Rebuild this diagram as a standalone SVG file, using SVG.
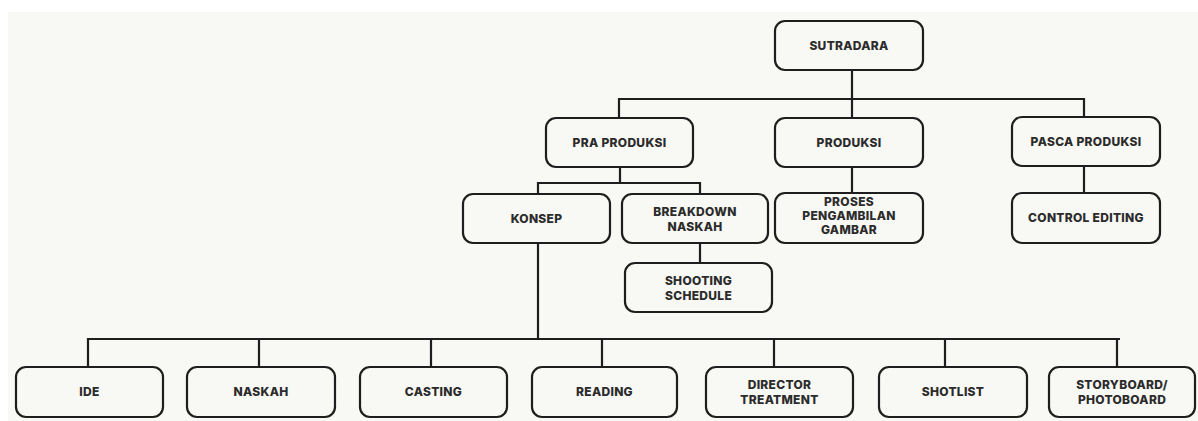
<svg xmlns="http://www.w3.org/2000/svg" width="1198" height="421" viewBox="0 0 1198 421">
<style>
.box{fill:#f8f8f4;stroke:#1e1e1e;stroke-width:2.2}
.lbl{font-family:Inter,"Liberation Sans",sans-serif;font-weight:800;font-size:12px;fill:#2b2b2b;text-anchor:middle;letter-spacing:0.3px}
.conn{stroke:#1e1e1e;stroke-width:2.2;fill:none}
</style>
<rect x="0" y="0" width="1198" height="421" fill="#ffffff"/>
<rect x="8" y="12" width="1190" height="409" fill="#f8f8f4"/>
<g id="connectors" class="conn">
<path d="M852 70V118"/>
<path d="M619 118V99H1084V117"/>
<path d="M620 167V183"/>
<path d="M538 194V183H700V194"/>
<path d="M700 243V263"/>
<path d="M852 167V193"/>
<path d="M1084 166V193"/>
<path d="M538 243V339"/>
<path d="M88 367V339H1120"/>
<path d="M259 339V367M431 339V367M602 339V367M774 339V367M945 339V367M1117 339V367"/>
</g>
<g id="sutradara"><rect class="box" x="775" y="21" width="148" height="49" rx="10"/><text class="lbl" x="849" y="50">SUTRADARA</text></g>
<g id="pra-produksi"><rect class="box" x="546" y="118" width="147" height="49" rx="10"/><text class="lbl" x="619.5" y="147">PRA PRODUKSI</text></g>
<g id="produksi"><rect class="box" x="775" y="118" width="148" height="49" rx="10"/><text class="lbl" x="849" y="147">PRODUKSI</text></g>
<g id="pasca-produksi"><rect class="box" x="1012" y="117" width="148" height="49" rx="10"/><text class="lbl" x="1086" y="146">PASCA PRODUKSI</text></g>
<g id="konsep"><rect class="box" x="463" y="194" width="147" height="49" rx="10"/><text class="lbl" x="536.5" y="223">KONSEP</text></g>
<g id="breakdown-naskah"><rect class="box" x="622" y="194" width="146" height="49" rx="10"/><text class="lbl" x="695" y="216">BREAKDOWN</text><text class="lbl" x="695" y="231">NASKAH</text></g>
<g id="shooting-schedule"><rect class="box" x="625" y="263" width="147" height="49" rx="10"/><text class="lbl" x="698.5" y="285">SHOOTING</text><text class="lbl" x="698.5" y="300">SCHEDULE</text></g>
<g id="proses"><rect class="box" x="775" y="193" width="148" height="50" rx="10"/><text class="lbl" x="849" y="206">PROSES</text><text class="lbl" x="849" y="220">PENGAMBILAN</text><text class="lbl" x="849" y="234">GAMBAR</text></g>
<g id="control-editing"><rect class="box" x="1012" y="193" width="148" height="50" rx="10"/><text class="lbl" x="1086" y="222">CONTROL EDITING</text></g>
<g id="ide"><rect class="box" x="16" y="367" width="147" height="50" rx="10"/><text class="lbl" x="89.5" y="396">IDE</text></g>
<g id="naskah"><rect class="box" x="187" y="367" width="148" height="50" rx="10"/><text class="lbl" x="261" y="396">NASKAH</text></g>
<g id="casting"><rect class="box" x="360" y="367" width="147" height="50" rx="10"/><text class="lbl" x="433.5" y="396">CASTING</text></g>
<g id="reading"><rect class="box" x="532" y="367" width="145" height="50" rx="10"/><text class="lbl" x="604.5" y="396">READING</text></g>
<g id="director-treatment"><rect class="box" x="706" y="367" width="147" height="50" rx="10"/><text class="lbl" x="779.5" y="389">DIRECTOR</text><text class="lbl" x="779.5" y="404">TREATMENT</text></g>
<g id="shotlist"><rect class="box" x="879" y="367" width="148" height="50" rx="10"/><text class="lbl" x="953" y="396">SHOTLIST</text></g>
<g id="storyboard"><rect class="box" x="1049" y="367" width="146" height="50" rx="10"/><text class="lbl" x="1122" y="389">STORYBOARD/</text><text class="lbl" x="1122" y="404">PHOTOBOARD</text></g>
</svg>
